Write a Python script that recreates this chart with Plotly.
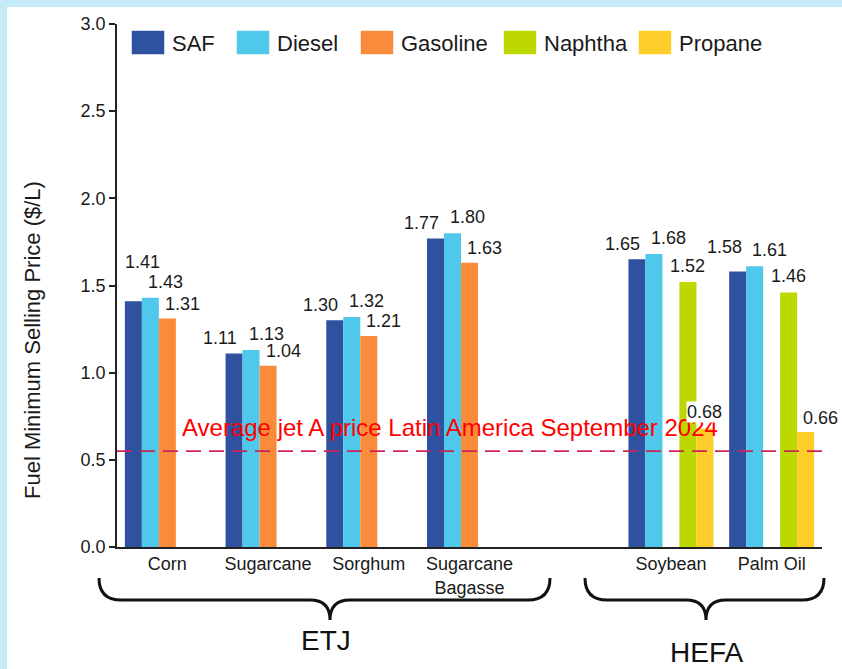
import plotly.graph_objects as go

# ---------------- data ----------------
categories = ["Corn", "Sugarcane", "Sorghum", "Sugarcane<br>Bagasse", "", "Soybean", "Palm Oil"]
series_names = ["SAF", "Diesel", "Gasoline", "Naphtha", "Propane"]
saf      = [1.41, 1.11, 1.30, 1.77, None, 1.65, 1.58]
diesel   = [1.43, 1.13, 1.32, 1.80, None, 1.68, 1.61]
gasoline = [1.31, 1.04, 1.21, 1.63, None, None, None]
naphtha  = [None, None, None, None, None, 1.52, 1.46]
propane  = [None, None, None, None, None, 0.68, 0.66]
jet_a_price = 0.55
jet_a_label = "Average jet A price Latin America September 2024"
group_labels = ["ETJ", "HEFA"]
y_ticks = [0.0, 0.5, 1.0, 1.5, 2.0, 2.5, 3.0]

series_values = [saf, diesel, gasoline, naphtha, propane]
colors = ["#2F52A0", "#4FC8EB", "#F98C3B", "#BCD800", "#FFCD2A"]

# ---------------- layout geometry (pixels) ----------------
W, H = 842, 669
ML, MR, MT, MB = 117, 20, 24, 122
PW, PH = W - ML - MR, H - MT - MB
FONT = "Arial, 'Liberation Sans', sans-serif"
BARGAP = 0.156
TXT = "#1a1a1a"


def px(x):
    return (x - ML) / PW


def py(y):
    return (H - MB - y) / PH


x_pos = list(range(len(categories)))

fig = go.Figure()
for name, vals, col in zip(series_names, series_values, colors):
    fig.add_trace(go.Bar(
        x=x_pos, y=vals, name=name, marker_color=col,
        marker_line_width=0, showlegend=False,
    ))

annotations = []
shapes = []

# background strips (light blue frame top/left)
shapes.append(dict(type="rect", xref="paper", yref="paper", x0=px(0), x1=px(W),
                   y0=py(7), y1=py(0), fillcolor="#C5EAF8", line_width=0, layer="below"))
shapes.append(dict(type="rect", xref="paper", yref="paper", x0=px(0), x1=px(7),
                   y0=py(H), y1=py(0), fillcolor="#C5EAF8", line_width=0, layer="below"))

# jet A price line + label
shapes.append(dict(type="line", xref="paper", yref="y", x0=0, x1=1,
                   y0=jet_a_price, y1=jet_a_price,
                   line=dict(color="#CC2458", width=1.6, dash="15px,8px"), layer="above"))
annotations.append(dict(x=px(450), y=py(427), xref="paper", yref="paper",
                        xanchor="center", yanchor="middle",
                        text=jet_a_label, showarrow=False,
                        font=dict(family=FONT, size=24, color="#FF0000")))

# value labels
slot = (1 - BARGAP) / len(series_names)
default_nudge = [(-14, 15), (15, 16), (15, 15), (0, 16), (0, 16)]
special_nudge = {(0, 0): (9, 39), (0, 6): (-13, 25), (4, 6): (15, 14)}
for i, vals in enumerate(series_values):
    for j, v in enumerate(vals):
        if v is None:
            continue
        dx, dy = special_nudge.get((i, j), default_nudge[i])
        annotations.append(dict(
            x=x_pos[j] + (i - (len(series_names) - 1) / 2) * slot, y=v,
            xref="x", yref="y", text=f"{v:.2f}", showarrow=False,
            xshift=dx, yshift=dy, xanchor="center", yanchor="middle",
            bgcolor="white", borderpad=0,
            font=dict(family=FONT, size=18, color=TXT)))

# custom legend
legend_x = [132, 237, 361, 504, 639]
for name, col, lx in zip(series_names, colors, legend_x):
    shapes.append(dict(type="rect", xref="paper", yref="paper",
                       x0=px(lx), x1=px(lx + 32), y0=py(54), y1=py(31),
                       fillcolor=col, line=dict(color=col, width=0.5)))
    annotations.append(dict(x=px(lx + 38), y=py(43), xref="paper", yref="paper",
                            xanchor="left", yanchor="middle", text=name, showarrow=False,
                            font=dict(family=FONT, size=22, color=TXT)))

# y axis title
annotations.append(dict(x=px(32), y=py(340), xref="paper", yref="paper",
                        xanchor="center", yanchor="middle",
                        text="Fuel Minimum Selling Price ($/L)", textangle=-90,
                        showarrow=False, font=dict(family=FONT, size=22, color=TXT)))


# braces
def brace(x0, xm, x1, ytip=578, yflat=600, ypt=620, r=22, rm=20):
    p = (f"M {px(x0)},{py(ytip)} Q {px(x0)},{py(yflat)} {px(x0 + r)},{py(yflat)} "
         f"L {px(xm - rm)},{py(yflat)} Q {px(xm)},{py(yflat)} {px(xm)},{py(ypt)} "
         f"Q {px(xm)},{py(yflat)} {px(xm + rm)},{py(yflat)} "
         f"L {px(x1 - r)},{py(yflat)} Q {px(x1)},{py(yflat)} {px(x1)},{py(ytip)}")
    return dict(type="path", xref="paper", yref="paper", path=p,
                line=dict(color="#111111", width=3))


shapes.append(brace(99, 330, 550))
shapes.append(brace(585, 706, 824))
annotations.append(dict(x=px(326), y=py(640), xref="paper", yref="paper",
                        xanchor="center", yanchor="middle",
                        text=group_labels[0], showarrow=False,
                        font=dict(family=FONT, size=28, color="#111111")))
annotations.append(dict(x=px(706), y=py(652), xref="paper", yref="paper",
                        xanchor="center", yanchor="middle",
                        text=group_labels[1], showarrow=False,
                        font=dict(family=FONT, size=28, color="#111111")))

fig.update_layout(
    width=W, height=H,
    margin=dict(l=ML, r=MR, t=MT, b=MB, pad=0),
    paper_bgcolor="white", plot_bgcolor="white",
    barmode="group", bargap=BARGAP, bargroupgap=0,
    showlegend=False,
    font=dict(family=FONT, size=18, color=TXT),
    shapes=shapes, annotations=annotations,
    xaxis=dict(
        range=[-0.5, len(categories) - 0.5], tickmode="array",
        tickvals=x_pos, ticktext=categories, ticks="",
        showline=True, linecolor="#222222", linewidth=1.5,
        showgrid=False, zeroline=False, tickfont=dict(size=18),
    ),
    yaxis=dict(
        range=[0, 3], tickmode="array", tickvals=y_ticks,
        ticktext=[f"{t:.1f}" for t in y_ticks],
        ticks="outside", ticklen=6, tickwidth=1.5, tickcolor="#222222",
        showline=True, linecolor="#222222", linewidth=1.5,
        showgrid=False, zeroline=False, tickfont=dict(size=18),
    ),
)

fig.write_html(
    "out.html",
    config={"displayModeBar": False},
    post_script="document.body.style.margin='0';document.body.style.overflow='hidden';",
)
